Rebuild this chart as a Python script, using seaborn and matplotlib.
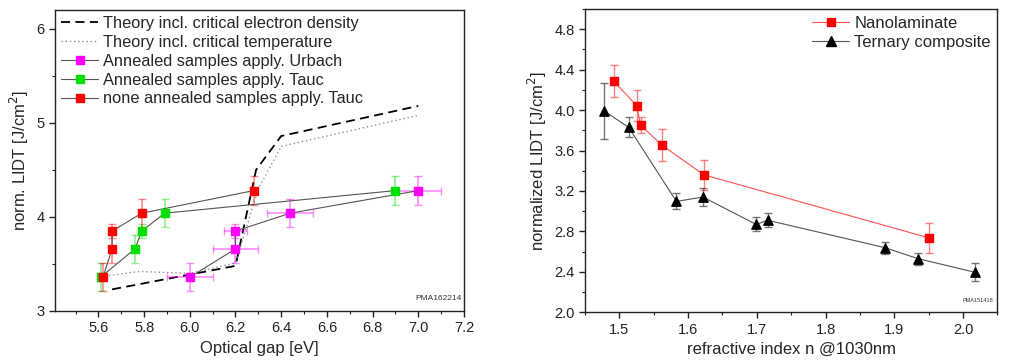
import matplotlib
matplotlib.use("Agg")
import matplotlib.pyplot as plt
from matplotlib.lines import Line2D
from matplotlib.ticker import MultipleLocator, FormatStrFormatter
import seaborn as sns
import pandas as pd

# ---- left panel data: LIDT vs optical gap ----
theory_ed_x = [5.66, 6.20, 6.29, 6.40, 7.00]
theory_ed_y = [3.23, 3.48, 4.50, 4.86, 5.18]
theory_ct_x = [5.61, 5.78, 6.00, 6.20, 6.30, 6.40, 7.00]
theory_ct_y = [3.365, 3.42, 3.40, 3.51, 4.30, 4.75, 5.08]

urbach_x = [6.00, 6.20, 6.20, 6.44, 7.00]
urbach_y = [3.36, 3.66, 3.85, 4.04, 4.28]
urbach_xerr = [0.10, 0.10, 0.05, 0.10, 0.10]
urbach_yerr = [0.15, 0.15, 0.07, 0.15, 0.15]

tauc_x = [5.61, 5.76, 5.79, 5.89, 6.90]
tauc_y = [3.36, 3.66, 3.85, 4.04, 4.28]
tauc_yerr = [0.15, 0.15, 0.07, 0.15, 0.15]

none_x = [5.62, 5.66, 5.66, 5.79, 6.28]
none_y = [3.36, 3.66, 3.85, 4.04, 4.28]
none_yerr = [0.15, 0.15, 0.07, 0.15, 0.15]

# ---- right panel data: LIDT vs refractive index ----
nano_n = [1.492, 1.525, 1.531, 1.562, 1.623, 1.950]
nano_lidt = [4.286, 4.045, 3.85, 3.653, 3.36, 2.737]
nano_err = [0.16, 0.155, 0.08, 0.16, 0.15, 0.15]

tern_n = [1.478, 1.5135, 1.583, 1.6215, 1.699, 1.716, 1.886, 1.935, 2.018]
tern_lidt = [3.99, 3.83, 3.097, 3.14, 2.87, 2.91, 2.64, 2.53, 2.395]
tern_err = [0.28, 0.10, 0.08, 0.09, 0.07, 0.07, 0.06, 0.06, 0.09]

sns.set_theme(style="ticks")
plt.rcParams['font.family'] = ['Liberation Sans', 'DejaVu Sans']
plt.rcParams['xtick.labelsize'] = 10.5
plt.rcParams['ytick.labelsize'] = 10.5

fig = plt.figure(figsize=(10.16, 3.62), dpi=100)
ax1 = fig.add_axes([0.0541, 0.1409, 0.4026, 0.8315])
ax2 = fig.add_axes([0.5758, 0.1373, 0.4058, 0.8378])

line_grey = '#555555'

# theory curves
sns.lineplot(x=theory_ed_x, y=theory_ed_y, ax=ax1, color='black', lw=1.3,
             linestyle=(0, (5, 3)), sort=False, estimator=None)
sns.lineplot(x=theory_ct_x, y=theory_ct_y, ax=ax1, color='#909090', lw=1.0,
             linestyle=(0, (1, 2)), sort=False, estimator=None)

# measured series
series = [
    (urbach_x, urbach_y, urbach_xerr, urbach_yerr, '#ff00ff'),
    (tauc_x, tauc_y, None, tauc_yerr, '#00e000'),
    (none_x, none_y, None, none_yerr, '#ff0000'),
]
for xs, ys, xe, ye, col in series:
    ax1.errorbar(xs, ys, xerr=xe, yerr=ye, fmt='none', ecolor=col, alpha=0.45,
                 elinewidth=1.2, capsize=3, capthick=1.0, zorder=2)
    df = pd.DataFrame({'x': xs, 'y': ys})
    sns.lineplot(data=df, x='x', y='y', ax=ax1, color=line_grey, lw=0.8,
                 sort=False, estimator=None, zorder=3)
    ax1.scatter(xs, ys, marker='s', s=28, color=col, edgecolor=col, zorder=4)

ax1.set_xlim(5.41, 7.2)
ax1.set_ylim(3.0, 6.2)
ax1.xaxis.set_major_locator(MultipleLocator(0.2))
ax1.xaxis.set_minor_locator(MultipleLocator(0.1))
ax1.xaxis.set_major_formatter(FormatStrFormatter('%.1f'))
ax1.yaxis.set_major_locator(MultipleLocator(1))
ax1.yaxis.set_minor_locator(MultipleLocator(0.5))
ax1.set_xticks([5.6, 5.8, 6.0, 6.2, 6.4, 6.6, 6.8, 7.0, 7.2])
ax1.set_xlabel('Optical gap [eV]', fontsize=12)
ax1.set_ylabel('norm. LIDT [J/cm$^2$]', fontsize=12)
ax1.text(0.995, 0.03, 'PMA162214', transform=ax1.transAxes, ha='right',
         va='bottom', fontsize=6, color='#333333')

handles1 = [
    Line2D([], [], color='black', lw=1.3, linestyle=(0, (5, 3))),
    Line2D([], [], color='#909090', lw=1.0, linestyle=(0, (1, 2))),
    Line2D([], [], color=line_grey, lw=0.8, marker='s', ms=5.5, mfc='#ff00ff', mec='#ff00ff'),
    Line2D([], [], color=line_grey, lw=0.8, marker='s', ms=5.5, mfc='#00e000', mec='#00e000'),
    Line2D([], [], color=line_grey, lw=0.8, marker='s', ms=5.5, mfc='#ff0000', mec='#ff0000'),
]
labels1 = ['Theory incl. critical electron density', 'Theory incl. critical temperature',
           'Annealed samples apply. Urbach', 'Annealed samples apply. Tauc',
           'none annealed samples apply. Tauc']
ax1.legend(handles1, labels1, loc='upper left', frameon=False, fontsize=11.8,
           handlelength=2.3, labelspacing=0.24, borderaxespad=0.2,
           handletextpad=0.3, borderpad=0.15)

# right panel
ax2.errorbar(nano_n, nano_lidt, yerr=nano_err, fmt='none', ecolor='#ff3030',
             alpha=0.6, elinewidth=1.0, capsize=3, zorder=2)
ax2.errorbar(tern_n, tern_lidt, yerr=tern_err, fmt='none', ecolor='#555555',
             alpha=0.8, elinewidth=1.0, capsize=3, zorder=2)
sns.lineplot(x=nano_n, y=nano_lidt, ax=ax2, color='#ff5050', lw=0.8,
             sort=False, estimator=None, zorder=3)
sns.lineplot(x=tern_n, y=tern_lidt, ax=ax2, color='#555555', lw=0.8,
             sort=False, estimator=None, zorder=3)
ax2.scatter(nano_n, nano_lidt, marker='s', s=32, color='#ff0000', zorder=4)
ax2.scatter(tern_n, tern_lidt, marker='^', s=45, color='black', zorder=4)

ax2.set_xlim(1.45, 2.05)
ax2.set_ylim(2.0, 5.0)
ax2.xaxis.set_major_locator(MultipleLocator(0.1))
ax2.xaxis.set_minor_locator(MultipleLocator(0.05))
ax2.xaxis.set_major_formatter(FormatStrFormatter('%.1f'))
ax2.yaxis.set_major_locator(MultipleLocator(0.4))
ax2.yaxis.set_minor_locator(MultipleLocator(0.2))
ax2.yaxis.set_major_formatter(FormatStrFormatter('%.1f'))
ax2.set_yticks([2.0, 2.4, 2.8, 3.2, 3.6, 4.0, 4.4, 4.8])
ax2.set_xlabel('refractive index n @1030nm', fontsize=12)
ax2.set_ylabel('normalized LIDT [J/cm$^2$]', fontsize=12)
ax2.text(0.99, 0.03, 'PMA151418', transform=ax2.transAxes, ha='right',
         va='bottom', fontsize=4, color='#333333')

handles2 = [
    Line2D([], [], color='#ff5050', lw=0.8, marker='s', ms=5.5, mfc='#ff0000', mec='#ff0000'),
    Line2D([], [], color='#555555', lw=0.8, marker='^', ms=6.5, mfc='black', mec='black'),
]
ax2.legend(handles2, ['Nanolaminate', 'Ternary composite'], loc='upper right',
           frameon=False, fontsize=12, handlelength=2.2, labelspacing=0.25,
           borderaxespad=0.2, handletextpad=0.3, borderpad=0.2)

for ax in (ax1, ax2):
    for sp in ax.spines.values():
        sp.set_visible(True)
        sp.set_color('#222222')
        sp.set_linewidth(1.0)
    ax.tick_params(which='major', direction='out', length=4, width=1, colors='#222222')
    ax.tick_params(which='minor', direction='out', length=2.5, width=0.8, colors='#222222')
    ax.tick_params(labelcolor='#222222')

fig.savefig('out.png', dpi=100)
